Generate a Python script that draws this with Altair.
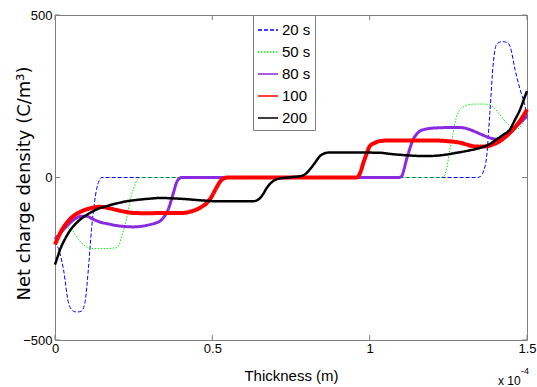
import altair as alt
import pandas as pd

# ---------------- data (x in units of 1e-4 m) ----------------
series_names = ["20 s", "50 s", "80 s", "100", "200"]

x20 = [0, 0.016, 0.027, 0.043, 0.058, 0.07, 0.084, 0.095, 0.106, 0.116, 0.125, 0.132, 0.14, 0.148, 0.16,
       0.5, 1.0, 1.34, 1.35, 1.362, 1.372, 1.382, 1.393, 1.403, 1.42, 1.435, 1.446, 1.462, 1.478, 1.494, 1.5]
y20 = [-196, -235, -283, -386, -411, -414, -411, -386, -283, -160, -80, -37, -10, 0, 0,
       0, 0, 0, 2, 20, 66, 200, 353, 409, 418, 416, 404, 332, 271, 219, 189]

x50 = [0, 0.016, 0.032, 0.048, 0.064, 0.079, 0.095, 0.111, 0.15, 0.196, 0.205, 0.212, 0.222, 0.233, 0.244,
       0.254, 0.262, 0.27, 0.6, 1.0, 1.22, 1.235, 1.245, 1.255, 1.263, 1.271, 1.279, 1.287, 1.303, 1.319,
       1.35, 1.377, 1.395, 1.409, 1.422, 1.435, 1.45, 1.467, 1.485, 1.5]
y50 = [-190, -170, -156, -156, -175, -196, -210, -218, -219, -216, -205, -179, -150, -99, -50,
       -23, -6, 0, 0, 0, 0, 3, 30, 86, 125, 168, 195, 209, 220, 225,
       226, 225, 215, 199, 183, 168, 155, 148, 165, 194]

x80 = [0, 0.016, 0.037, 0.053, 0.069, 0.085, 0.1, 0.12, 0.143, 0.17, 0.196, 0.225, 0.249, 0.275, 0.302,
       0.32, 0.334, 0.345, 0.355, 0.363, 0.37, 0.378, 0.386, 0.394, 0.402, 0.42, 0.7, 1.0, 1.09, 1.101,
       1.109, 1.117, 1.128, 1.138, 1.149, 1.16, 1.175, 1.191, 1.223, 1.26, 1.287, 1.31, 1.33, 1.356, 1.382,
       1.4, 1.414, 1.435, 1.456, 1.478, 1.5]
y80 = [-190, -172, -150, -135, -124, -119, -119, -128, -137, -143, -148, -151, -152, -150, -145,
       -140, -134, -123, -109, -90, -68, -42, -16, -4, 0, 0, 0, 0, 0, 3,
       25, 55, 90, 117, 133, 143, 148, 151, 153, 154, 154, 150, 143, 132, 122,
       118, 117, 128, 148, 168, 189]

x100 = [0, 0.012, 0.027, 0.042, 0.058, 0.08, 0.1, 0.12, 0.143, 0.17, 0.196, 0.22, 0.249, 0.3, 0.334,
        0.37, 0.408, 0.43, 0.451, 0.468, 0.483, 0.497, 0.51, 0.521, 0.531, 0.54, 0.547, 0.56, 0.7, 0.9,
        0.958, 0.965, 0.972, 0.98, 0.99, 1.0, 1.015, 1.033, 1.06, 1.086, 1.15, 1.2, 1.245, 1.287, 1.31,
        1.33, 1.35, 1.372, 1.395, 1.414, 1.435, 1.456, 1.478, 1.5]
y100 = [-206, -180, -153, -134, -119, -106, -98, -93, -90, -94, -100, -105, -109, -110, -109,
        -109, -109, -105, -98, -89, -78, -60, -37, -18, -6, -2, 0, 0, 0, 0,
        0, 5, 20, 45, 72, 96, 106, 112, 114, 114, 114, 114, 112, 107, 101,
        96, 95, 96, 103, 112, 128, 148, 175, 209]

x200 = [0, 0.008, 0.016, 0.026, 0.037, 0.05, 0.069, 0.09, 0.111, 0.135, 0.164, 0.195, 0.228, 0.26, 0.302,
        0.334, 0.37, 0.408, 0.46, 0.513, 0.57, 0.63, 0.642, 0.652, 0.662, 0.673, 0.683, 0.695, 0.705, 0.715,
        0.74, 0.76, 0.779, 0.795, 0.81, 0.826, 0.842, 0.853, 0.863, 0.874, 0.95, 1.033, 1.07, 1.107, 1.14,
        1.181, 1.223, 1.276, 1.31, 1.35, 1.38, 1.403, 1.425, 1.446, 1.462, 1.478, 1.49, 1.5]
y200 = [-268, -245, -222, -200, -180, -160, -139, -122, -109, -97, -88, -80, -73, -69, -65,
        -63, -64, -66, -70, -73, -73, -73, -70, -63, -50, -32, -20, -10, -5, -3,
        0, 2, 4, 10, 25, 45, 66, 73, 76, 77, 77, 76, 72, 69, 67,
        66, 68, 76, 82, 91, 102, 117, 132, 148, 178, 209, 240, 266]

x_tick_values = [0, 0.5, 1, 1.5]
y_tick_values = [-500, 0, 500]

colors = ["#0000ff", "#00ee00", "#8a2be2", "#ff0000", "#000000"]
dashes = [[4, 2], [1.5, 1.5], [1, 0], [1, 0], [1, 0]]
widths = [1, 1, 3, 4, 2.5]

# ---------------- build table ----------------
rows = []
for name, w, xs, ys in zip(series_names, widths, [x20, x50, x80, x100, x200], [y20, y50, y80, y100, y200]):
    for i, (a, b) in enumerate(zip(xs, ys)):
        rows.append({"series": name, "x": a, "y": b, "i": i, "w": w})
df = pd.DataFrame(rows)

W, H = 472, 325
sans = "Liberation Sans, Arial, Helvetica, sans-serif"

lines = alt.Chart(df).mark_line(interpolate="monotone").encode(
    x=alt.X("x:Q", scale=alt.Scale(domain=[0, 1.5], nice=False, zero=False),
            axis=alt.Axis(values=x_tick_values, format="~g", title="Thickness (m)",
                          labelPadding=2, labelFlush=False, titleY=28, titleBaseline="top",
                          titleFont=sans, titleFontSize=15)),
    y=alt.Y("y:Q", scale=alt.Scale(domain=[-500, 500], nice=False),
            axis=alt.Axis(values=y_tick_values, format="d", title="Net charge density (C/m³)",
                          labelPadding=3, labelFlush=False, labelBaseline="middle",
                          titleX=-31, titleY=168, titleBaseline="middle", titleAlign="center",
                          titleFont="DejaVu Sans", titleFontSize=18)),
    color=alt.Color("series:N", scale=alt.Scale(domain=series_names, range=colors), title=None),
    strokeDash=alt.StrokeDash("series:N", scale=alt.Scale(domain=series_names, range=dashes), title=None),
    strokeWidth=alt.StrokeWidth("w:Q", scale=None, legend=None),
    order="i:Q",
)

xt = pd.DataFrame({"x": x_tick_values})
yt = pd.DataFrame({"y": y_tick_values})
tick_color = "#808080"
bottom_ticks = alt.Chart(xt).mark_rule(color=tick_color).encode(
    x=alt.X("x:Q"), y=alt.value(H), y2=alt.value(H - 5))
top_ticks = alt.Chart(xt).mark_rule(color=tick_color).encode(
    x=alt.X("x:Q"), y=alt.value(0), y2=alt.value(5))
left_ticks = alt.Chart(yt).mark_rule(color=tick_color).encode(
    y=alt.Y("y:Q"), x=alt.value(0), x2=alt.value(5))
right_ticks = alt.Chart(yt).mark_rule(color=tick_color).encode(
    y=alt.Y("y:Q"), x=alt.value(W), x2=alt.value(W - 5))

mult = alt.Chart(pd.DataFrame({"t": ["x 10"]})).mark_text(
    align="left", baseline="alphabetic", font=sans, fontSize=12, color="black").encode(
    text="t:N", x=alt.value(443), y=alt.value(370))
expo = alt.Chart(pd.DataFrame({"t": ["-4"]})).mark_text(
    align="left", baseline="alphabetic", font=sans, fontSize=9, color="black").encode(
    text="t:N", x=alt.value(466), y=alt.value(359))

chart = alt.layer(lines, bottom_ticks, top_ticks, left_ticks, right_ticks, mult, expo).properties(
    width=W, height=H,
    autosize=alt.AutoSizeParams(type="none"),
    padding={"left": 55, "top": 15, "right": 10, "bottom": 47},
    background="white",
).configure_view(
    stroke="#808080", strokeWidth=1
).configure_axis(
    domain=False, ticks=False, grid=False,
    labelFont=sans, labelFontSize=13, labelColor="black",
    titleColor="black", titleFontWeight="normal",
).configure_legend(
    orient="none", legendX=198, legendY=0,
    padding=4, strokeColor="#808080", fillColor="white",
    symbolType="stroke", symbolSize=400, symbolStrokeWidth=1.5,
    labelFont=sans, labelFontSize=15, labelColor="black", labelOffset=3,
    rowPadding=3, cornerRadius=0,
)

chart.save("out.html", embed_options={"renderer": "svg", "actions": False})
